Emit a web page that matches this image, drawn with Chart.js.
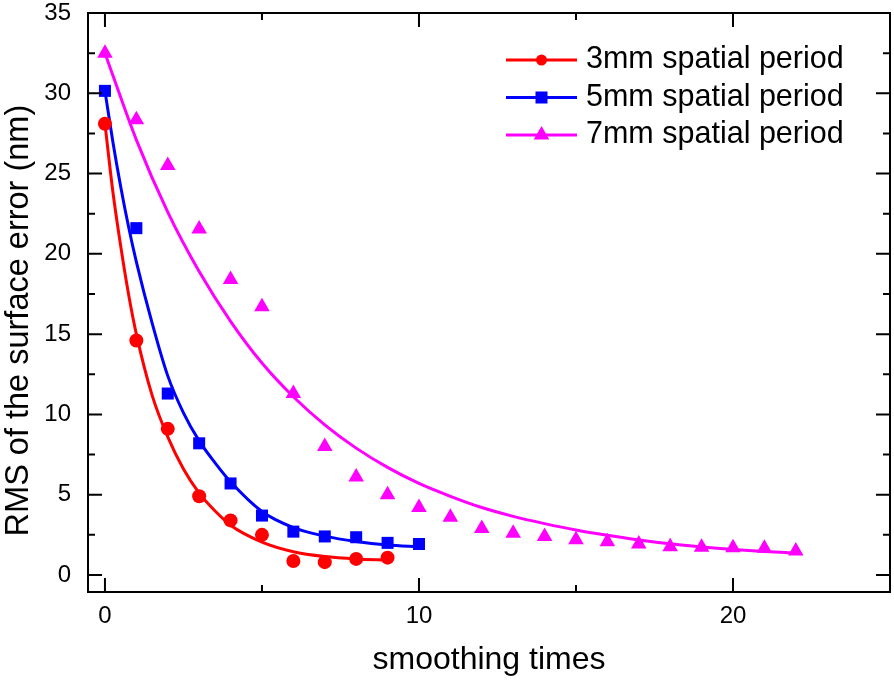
<!DOCTYPE html>
<html>
<head>
<meta charset="utf-8">
<title>RMS vs smoothing times</title>
<script src="https://cdn.jsdelivr.net/npm/chart.js@4.4.1/dist/chart.umd.min.js"></script>
<style>
  html, body { margin: 0; padding: 0; background: #fff; }
  #myChart { display: block; }
</style>
</head>
<body>
<canvas id="myChart" width="894" height="682"></canvas>
<script>
// measured points
const times3 = [0, 1, 2, 3, 4, 5, 6, 7, 8, 9];
const rms3 = [28.1, 14.6, 9.1, 4.9, 3.4, 2.5, 0.87, 0.8, 1.0, 1.08];
const times5 = [0, 1, 2, 3, 4, 5, 6, 7, 8, 9, 10];
const rms5 = [30.15, 21.6, 11.3, 8.2, 5.7, 3.7, 2.7, 2.4, 2.35, 2.0, 1.93];
const times7 = [0, 1, 2, 3, 4, 5, 6, 7, 8, 9, 10, 11, 12, 13, 14, 15, 16, 17, 18, 19, 20, 21, 22];
const rms7 = [32.5, 28.35, 25.5, 21.55, 18.4, 16.7, 11.3, 8.0, 6.1, 5.0, 4.2, 3.6, 2.9, 2.6, 2.4, 2.2, 2.07, 1.93, 1.76, 1.72, 1.7, 1.66, 1.5];

// fitted curves
const fitTimes3 = [0, 0.25, 0.5, 0.75, 1, 1.5, 2, 2.5, 3, 3.5, 4, 5, 6, 7, 8, 9];
const fitRms3 = [28.1, 23.9, 20.5, 17.5, 15.0, 11.2, 8.6, 6.6, 5.1, 4.0, 3.1, 2.05, 1.45, 1.15, 1.0, 0.93];
const fitTimes5 = [0, 0.25, 0.5, 0.75, 1, 1.5, 2, 2.5, 3, 3.5, 4, 5, 6, 7, 8, 9, 10];
const fitRms5 = [30.15, 27.0, 24.2, 21.7, 19.5, 15.7, 12.4, 10.1, 8.35, 7.0, 5.8, 3.95, 2.95, 2.42, 2.08, 1.86, 1.75];
const fitTimes7 = [0, 1, 2, 3, 4, 5, 6, 7, 8, 9, 10, 11, 12, 13, 14, 15, 16, 17, 18, 19, 20, 21, 22];
const fitRms7 = [32.5, 27.1, 22.6, 18.9, 15.8, 13.2, 11.1, 9.35, 7.9, 6.7, 5.7, 4.9, 4.2, 3.65, 3.2, 2.8, 2.47, 2.18, 1.94, 1.75, 1.59, 1.46, 1.36];

const seriesNames = ["3mm spatial period", "5mm spatial period", "7mm spatial period"];
const xTicks = [0, 10, 20];
const yTicks = [0, 5, 10, 15, 20, 25, 30, 35];

const FONT = "'Liberation Sans', Arial, sans-serif";

function toPoints(xs, ys) {
  return xs.map((x, i) => ({ x: x, y: ys[i] }));
}

function pointSet(label, xs, ys, color, style, radius) {
  return {
    label: label,
    data: toPoints(xs, ys),
    showLine: false,
    pointStyle: style,
    pointRadius: radius,
    backgroundColor: color,
    borderColor: color,
    borderWidth: 0,
    order: 1,
  };
}

function fitSet(xs, ys, color) {
  return {
    label: "fit",
    data: toPoints(xs, ys),
    showLine: true,
    pointRadius: 0,
    borderColor: color,
    borderWidth: 3,
    cubicInterpolationMode: "monotone",
    fill: false,
    order: 2,
  };
}

const pointSets = [
  pointSet(seriesNames[0], times3, rms3, "#ff0000", "circle", 7),
  pointSet(seriesNames[1], times5, rms5, "#0000ff", "rect", 8.5),
  pointSet(seriesNames[2], times7, rms7, "#ff00ff", "triangle", 9),
];

// frame with inward ticks on all four sides
const frameTicks = {
  id: "frameTicks",
  afterDraw(chart) {
    const { ctx, chartArea: a, scales } = chart;
    const x = scales.x, y = scales.y;
    ctx.save();
    ctx.strokeStyle = "#000";
    ctx.lineWidth = 2;
    ctx.strokeRect(a.left, a.top, a.right - a.left, a.bottom - a.top);
    ctx.beginPath();
    for (let v = 0; v <= 25; v += 5) {
      const px = x.getPixelForValue(v);
      if (px > a.right - 2) continue;
      const len = xTicks.includes(v) ? 14 : 7;
      ctx.moveTo(px, a.bottom); ctx.lineTo(px, a.bottom - len);
      ctx.moveTo(px, a.top); ctx.lineTo(px, a.top + len);
    }
    for (let v = 0; v <= 35; v += 2.5) {
      const py = y.getPixelForValue(v);
      const len = yTicks.includes(v) ? 14 : 7;
      ctx.moveTo(a.left, py); ctx.lineTo(a.left + len, py);
      ctx.moveTo(a.right, py); ctx.lineTo(a.right - len, py);
    }
    ctx.stroke();
    ctx.restore();
  },
};

// legend inside the plot: line + marker + text
const legendRadius = { circle: 5.5, rect: 8.5, triangle: 9 };

const insideLegend = {
  id: "insideLegend",
  afterDraw(chart) {
    const { ctx, chartArea: a } = chart;
    const x0 = a.right - 384;
    const lineLen = 71;
    ctx.save();
    pointSets.forEach((ds, i) => {
      const cy = a.top + 47 + i * 37.5;
      ctx.strokeStyle = ds.borderColor;
      ctx.fillStyle = ds.backgroundColor;
      ctx.lineWidth = 3;
      ctx.beginPath();
      ctx.moveTo(x0, cy);
      ctx.lineTo(x0 + lineLen, cy);
      ctx.stroke();
      Chart.helpers.drawPoint(ctx, { pointStyle: ds.pointStyle, radius: legendRadius[ds.pointStyle], borderWidth: 0, rotation: 0 }, x0 + lineLen / 2, cy);
      ctx.fillStyle = "#000";
      ctx.font = "30.5px " + FONT;
      ctx.textBaseline = "middle";
      ctx.textAlign = "left";
      ctx.fillText(ds.label, x0 + lineLen + 9, cy);
    });
    ctx.restore();
  },
};

function noScalePadding(scale) {
  scale.paddingTop = 0;
  scale.paddingBottom = 0;
  scale.paddingLeft = 0;
  scale.paddingRight = 0;
}

Chart.defaults.font.family = FONT;
Chart.defaults.color = "#000";

new Chart("myChart", {
  type: "scatter",
  data: {
    datasets: [
      ...pointSets,
      fitSet(fitTimes3, fitRms3, "#ff0000"),
      fitSet(fitTimes5, fitRms5, "#0000ff"),
      fitSet(fitTimes7, fitRms7, "#ff00ff"),
    ],
  },
  options: {
    responsive: false,
    animation: false,
    events: [],
    layout: { autoPadding: false, padding: { top: 13, right: 4, left: 0, bottom: 0 } },
    plugins: {
      legend: { display: false },
      tooltip: { enabled: false },
    },
    scales: {
      x: {
        type: "linear",
        min: -0.54,
        max: 25,
        grid: { display: false, drawTicks: false },
        border: { display: false },
        ticks: { stepSize: 10, includeBounds: false, padding: 10, font: { size: 24 } },
        title: { display: true, text: "smoothing times", font: { size: 32 }, padding: { top: 0, bottom: 3 } },
        afterFit(scale) { scale.height = 90; noScalePadding(scale); },
      },
      y: {
        type: "linear",
        min: -1.06,
        max: 35,
        grid: { display: false, drawTicks: false },
        border: { display: false },
        ticks: { stepSize: 5, includeBounds: false, padding: 17, font: { size: 24 } },
        title: { display: true, text: "RMS of the surface error (nm)    ", font: { size: 32.5 }, padding: { top: 0, bottom: 0 } },
        afterFit(scale) { scale.width = 88; noScalePadding(scale); },
      },
    },
  },
  plugins: [frameTicks, insideLegend],
});
</script>
</body>
</html>
